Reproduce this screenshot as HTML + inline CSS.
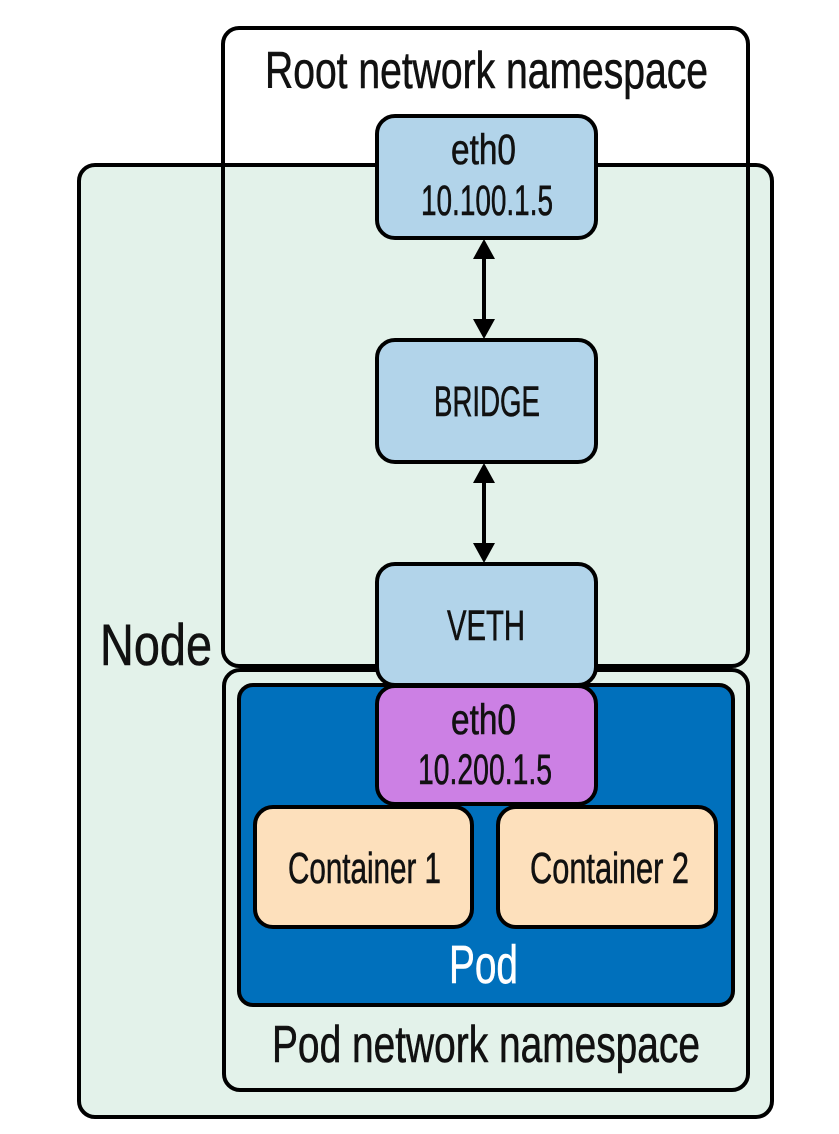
<!DOCTYPE html>
<html><head><meta charset="utf-8"><style>
html,body{margin:0;padding:0;background:#fff;}
svg{display:block;}
text{font-family:"Liberation Sans",sans-serif;}
</style></head><body>
<svg width="839" height="1134" viewBox="0 0 839 1134" xmlns="http://www.w3.org/2000/svg">
<rect x="223" y="28" width="525" height="150" rx="16" fill="#fff"/>
<g stroke="#000" stroke-width="4">
<rect x="79" y="165" width="693" height="952" rx="16" fill="#e3f2ea"/>
<rect x="223" y="28" width="525" height="638" rx="16" fill="none"/>
<rect x="224" y="670" width="524" height="420" rx="16" fill="none"/>
<rect x="239" y="685" width="494" height="320" rx="14" fill="#0070bc"/>
<rect x="377" y="116" width="219" height="122" rx="18" fill="#b2d4ea"/>
<rect x="377" y="340" width="219" height="122" rx="18" fill="#b2d4ea"/>
<rect x="377" y="564" width="219" height="121" rx="18" fill="#b2d4ea"/>
<rect x="377" y="686" width="219" height="118" rx="18" fill="#cc80e4"/>
<rect x="255" y="807" width="217" height="120" rx="18" fill="#fde0bc"/>
<rect x="498" y="807" width="218" height="120" rx="18" fill="#fde0bc"/>
<line x1="484" y1="255" x2="484" y2="322"/>
<line x1="484" y1="479" x2="484" y2="546"/>
</g>
<g fill="#000">
<polygon points="484,239 473,259 495,259"/>
<polygon points="484,339 473,319 495,319"/>
<polygon points="484,463 473,483 495,483"/>
<polygon points="484,563 473,543 495,543"/>
</g>
<g fill="#111" stroke="#111" stroke-width="0.6">
<text x="265" y="88" font-size="52" textLength="443" lengthAdjust="spacingAndGlyphs">Root network namespace</text>
<text x="100" y="665" font-size="58" textLength="112" lengthAdjust="spacingAndGlyphs">Node</text>
<text x="272" y="1062" font-size="52" textLength="428" lengthAdjust="spacingAndGlyphs">Pod network namespace</text>
<text x="451" y="164" font-size="43" textLength="65" lengthAdjust="spacingAndGlyphs">eth0</text>
<text x="421" y="215" font-size="43" textLength="132" lengthAdjust="spacingAndGlyphs">10.100.1.5</text>
<text x="434" y="416" font-size="43" textLength="106" lengthAdjust="spacingAndGlyphs">BRIDGE</text>
<text x="447" y="640" font-size="43" textLength="78" lengthAdjust="spacingAndGlyphs">VETH</text>
<text x="451" y="734" font-size="43" textLength="65" lengthAdjust="spacingAndGlyphs">eth0</text>
<text x="418" y="784" font-size="43" textLength="134" lengthAdjust="spacingAndGlyphs">10.200.1.5</text>
<text x="288" y="883" font-size="44" textLength="153" lengthAdjust="spacingAndGlyphs">Container 1</text>
<text x="530" y="883" font-size="44" textLength="159" lengthAdjust="spacingAndGlyphs">Container 2</text>
</g>
<text x="449" y="983" font-size="54" fill="#fff" stroke="#fff" stroke-width="0.6" textLength="69" lengthAdjust="spacingAndGlyphs">Pod</text>
</svg>
</body></html>
